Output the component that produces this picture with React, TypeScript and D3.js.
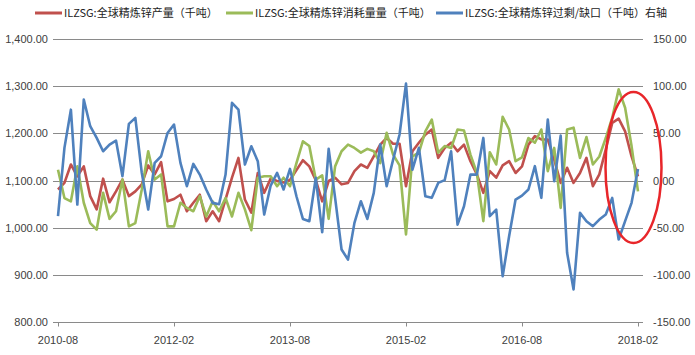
import React, { useEffect, useRef } from "react";
import * as d3 from "d3";

const W = 695;
const H = 355;

const startMonth = new Date(2010, 7, 1);
const endMonth = new Date(2018, 2, 1);
const months: string[] = d3.timeMonth.range(startMonth, endMonth).map((d) => d3.timeFormat("%Y-%m")(d));

const xTickLabels = ["2010-08", "2012-02", "2013-08", "2015-02", "2016-08", "2018-02"];
const leftTicks = [800, 900, 1000, 1100, 1200, 1300, 1400];
const rightTicks = [-150, -100, -50, 0, 50, 100, 150];

const seriesNames = [
  "ILZSG:全球精炼锌产量（千吨）",
  "ILZSG:全球精炼锌消耗量量（千吨）",
  "ILZSG:全球精炼锌过剩/缺口（千吨）右轴",
];
const seriesColors = ["#C0504D", "#9BBB59", "#4F81BD"];

const production = [
  1081, 1095, 1134, 1109, 1130, 1067, 1039, 1104, 1054, 1077,
  1102, 1067, 1077, 1092, 1132, 1113, 1139, 1056, 1061, 1070,
  1035, 1053, 1070, 1014, 1035, 1014, 1060, 1106, 1148, 1060,
  1032, 1116, 1074, 1104, 1099, 1096, 1101, 1122, 1143, 1130,
  1101, 1056, 1099, 1106, 1092, 1095, 1120, 1134, 1127, 1151,
  1176, 1190, 1178, 1178, 1088, 1162, 1180, 1197, 1208, 1148,
  1169, 1180, 1162, 1176, 1141, 1113, 1074, 1120, 1106, 1132,
  1141, 1116, 1130, 1176, 1194, 1187, 1187, 1144, 1095, 1127,
  1095, 1116, 1148, 1088, 1113, 1166, 1222, 1231, 1204, 1151,
  1109,
];

const consumption = [
  1123, 1063, 1056, 1130, 1053, 1010, 996, 1074, 1019, 1035,
  1102, 1003, 1010, 1081, 1162, 1102, 1113, 1003, 1003, 1053,
  1042, 1035, 1067, 1024, 1056, 1035, 1063, 1024, 1074, 1039,
  995, 1106, 1109, 1109, 1088, 1106, 1088, 1137, 1183, 1173,
  1102, 1111, 1019, 1130, 1162, 1176, 1169, 1159, 1167, 1162,
  1137, 1201, 1155, 1132, 986, 1151, 1159, 1204, 1229, 1159,
  1173, 1169, 1208, 1206, 1155, 1116, 1014, 1160, 1134, 1235,
  1208, 1141, 1149, 1190, 1180, 1208, 1120, 1169, 1042, 1208,
  1212, 1148, 1192, 1134, 1151, 1190, 1233, 1293, 1254, 1173,
  1077,
];

const surplus = [
  -37.7, 34.6, 75, -25.4, 85.7, 57.5, 45.1, 31, 38.1, 42.3,
  4.6, 60, 66.3, 8.1, -30.7, 18.7, 25.7, 50.4, 59.3, 18.7,
  -6, 17.6, 6.3, -9.5, -23.6, -25, 6.3, 82.2, 75, 16.9,
  36.3, 20.5, -36, -5.3, 8.1, -9.5, 12.3, -16.6, -40.6, -43,
  2.8, -54.7, 33.5, -18.3, -73, -83.6, -44.8, -21.9, -40.6, -13,
  38.1, -6, 22.2, 48.7, 102.6, 11.6, 34.6, -16.6, -18.3, -2.5,
  0.4, 31, -46.6, -27.2, 6.3, 6.3, 45.1, -37.7, -30.7, -101.2,
  -58.9, -20.1, -15.9, -9.5, 15.2, -18.3, 64.6, -0.7, 47.6, -76.5,
  -115.3, -34.2, -43, -48.3, -41.3, -36, -18.3, -62.4, -43, -23.6,
  12.3,
];

const allMonths = [...months, "2018-02"];

export default function App() {
  const ref = useRef<SVGSVGElement | null>(null);

  useEffect(() => {
    document.body.style.margin = "0";
    const svg = d3.select(ref.current);
    svg.selectAll("*").remove();

    const left = 58;
    const right = 638;
    const top = 38.8;
    const bottom = 322.3;

    const x = d3.scalePoint<string>().domain(allMonths).range([left, right]);
    const yL = d3.scaleLinear().domain([800, 1400]).range([bottom, top]);
    const yR = d3.scaleLinear().domain([-150, 150]).range([bottom, top]);

    const font = "'Liberation Sans', Arial, sans-serif";
    const textColor = "#404040";
    const gridColor = "#8a8a8a";

    // gridlines
    const g = svg.append("g");
    leftTicks.forEach((t) => {
      if (t === 800) return;
      g.append("line")
        .attr("x1", left - 5)
        .attr("x2", right + 5)
        .attr("y1", Math.round(yL(t)) + 0.5)
        .attr("y2", Math.round(yL(t)) + 0.5)
        .attr("stroke", gridColor)
        .attr("stroke-width", 1);
    });
    // x axis
    const axisY = Math.round(yL(800)) + 0.5;
    g.append("line")
      .attr("x1", left - 5)
      .attr("x2", right + 5)
      .attr("y1", axisY)
      .attr("y2", axisY)
      .attr("stroke", gridColor);
    xTickLabels.forEach((lab) => {
      const xx = Math.round(x(lab) as number) + 0.5;
      g.append("line")
        .attr("x1", xx)
        .attr("x2", xx)
        .attr("y1", axisY)
        .attr("y2", axisY + 4)
        .attr("stroke", gridColor);
      g.append("text")
        .attr("x", x(lab) as number)
        .attr("y", 344)
        .attr("text-anchor", "middle")
        .attr("font-family", font)
        .attr("font-size", 11)
        .attr("fill", textColor)
        .text(lab);
    });

    // left labels
    leftTicks.forEach((t) => {
      g.append("text")
        .attr("x", 48)
        .attr("y", yL(t) + 4)
        .attr("text-anchor", "end")
        .attr("font-family", font)
        .attr("font-size", 11)
        .attr("fill", textColor)
        .text(d3.format(",.2f")(t));
    });
    // right labels
    rightTicks.forEach((t) => {
      g.append("text")
        .attr("x", 653)
        .attr("y", yR(t) + 4)
        .attr("text-anchor", "start")
        .attr("font-family", font)
        .attr("font-size", 11)
        .attr("fill", textColor)
        .text(d3.format(".2f")(t).replace("−", "-"));
    });

    const lineL = d3
      .line<number>()
      .x((_, i) => x(allMonths[i]) as number)
      .y((d) => yL(d));
    const lineR = d3
      .line<number>()
      .x((_, i) => x(allMonths[i]) as number)
      .y((d) => yR(d));

    const sw = 2.6;
    svg.append("path").datum(production).attr("d", lineL).attr("fill", "none")
      .attr("stroke", seriesColors[0]).attr("stroke-width", sw).attr("stroke-linejoin", "round");
    svg.append("path").datum(consumption).attr("d", lineL).attr("fill", "none")
      .attr("stroke", seriesColors[1]).attr("stroke-width", sw).attr("stroke-linejoin", "round");
    svg.append("path").datum(surplus).attr("d", lineR).attr("fill", "none")
      .attr("stroke", seriesColors[2]).attr("stroke-width", sw).attr("stroke-linejoin", "round");

    // annotation ellipse
    svg.append("ellipse")
      .attr("cx", 633.5)
      .attr("cy", 167.5)
      .attr("rx", 28)
      .attr("ry", 75.5)
      .attr("fill", "none")
      .attr("stroke", "#E8262A")
      .attr("stroke-width", 2.5);

    // legend
    const legendX = [35, 226, 436];
    const lg = svg.append("g");
    seriesNames.forEach((name, i) => {
      lg.append("line")
        .attr("x1", legendX[i])
        .attr("x2", legendX[i] + 27)
        .attr("y1", 13)
        .attr("y2", 13)
        .attr("stroke", seriesColors[i])
        .attr("stroke-width", 3);
      lg.append("text")
        .attr("x", legendX[i] + 29)
        .attr("y", 17)
        .attr("font-family", "'Noto Sans CJK SC', sans-serif")
        .attr("font-size", 11)
        .attr("fill", "#222")
        .text(name);
    });
  }, []);

  return (
    <svg
      ref={ref}
      width={W}
      height={H}
      style={{ position: "absolute", left: 0, top: 0, background: "#fff" }}
    />
  );
}
